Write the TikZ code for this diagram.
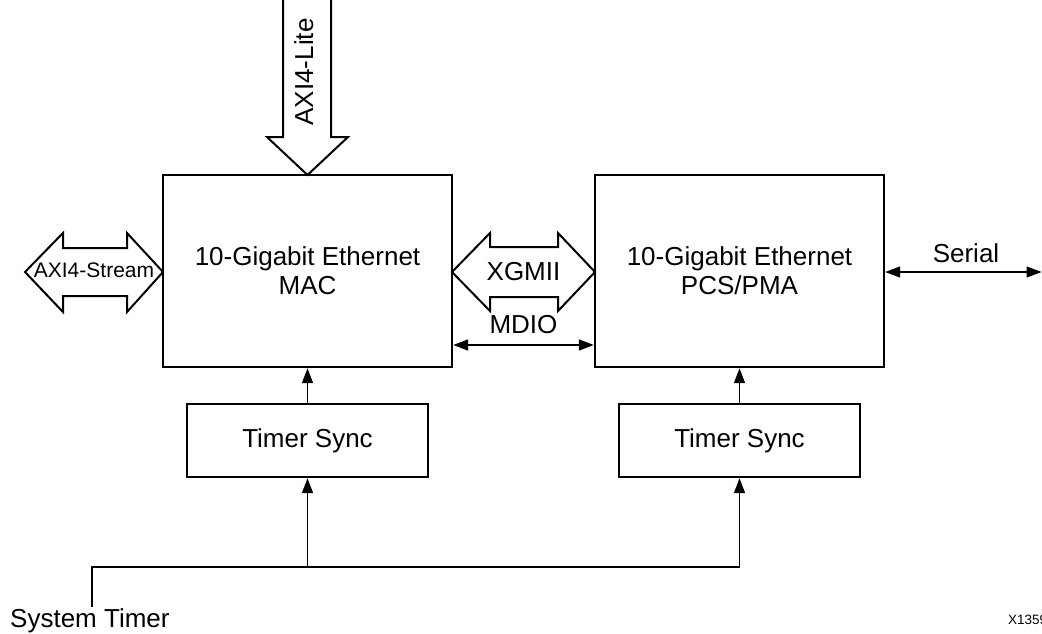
\documentclass[tikz,border=0pt]{standalone}
\usepackage{fontspec}
\setmainfont{Liberation Sans}
\usetikzlibrary{arrows.meta}
\begin{document}
\begin{tikzpicture}[x=1pt,y=-1pt,
  box/.style={draw,line width=2.4pt,inner sep=0pt,align=center,font=\fontsize{26}{29}\selectfont},
  lbl/.style={font=\fontsize{26}{29}\selectfont,inner sep=0pt},
  conn/.style={line width=1.5pt},
  tipend/.style={-{Triangle[length=15pt,width=11pt]}},
  tipboth/.style={{Triangle[length=15pt,width=11pt]}-{Triangle[length=15pt,width=11pt]}},
  blk/.style={draw,line width=2pt,line join=miter}]
\useasboundingbox (0,0) rectangle (1042,634);
% main blocks
\node[box,minimum width=289pt,minimum height=192pt] (mac) at (307.5,271) {10-Gigabit Ethernet\\MAC};
\node[box,minimum width=289pt,minimum height=192pt] (pcs) at (739.5,271) {10-Gigabit Ethernet\\PCS/PMA};
\node[box,minimum width=241pt,minimum height=73pt] (ts1) at (307.5,440.5) {Timer Sync};
\node[box,minimum width=241pt,minimum height=73pt] (ts2) at (739.5,440.5) {Timer Sync};
% timer sync to blocks
\draw[conn,tipend] (ts1.north) -- (mac.south);
\draw[conn,tipend] (ts2.north) -- (pcs.south);
% system timer
\coordinate (st) at (92,607);
\coordinate (jn) at (92,567);
\draw[conn,tipend] (st) -- (jn) -| (ts2.south);
\draw[conn,tipend] (jn -| ts1.south) -- (ts1.south);
\node[lbl,anchor=base west] (stl) at (10,627) {System Timer};
% MDIO
\coordinate (mdl) at (mac.east |- 0,345);
\coordinate (mdr) at (pcs.west |- 0,345);
\draw[conn,tipboth] (mdl) -- (mdr);
\node[lbl,anchor=base] (mdio) at (523.5,333) {MDIO};
% Serial
\coordinate (serr) at (1041.5,272);
\draw[conn,tipboth] (pcs.east |- serr) -- (serr);
\node[lbl,anchor=base] (serl) at (966,262) {Serial};
% XGMII block arrow
\draw[blk] (452,272) -- (490,233) -- (490,247) -- (558,247) -- (558,233) -- (595,272)
  -- (558,311) -- (558,297) -- (490,297) -- (490,311) -- cycle;
\node[lbl,anchor=base] (xgmii) at (523.5,280) {XGMII};
% AXI4-Stream block arrow
\draw[blk] (25,272) -- (63,233) -- (63,248) -- (127,248) -- (127,233) -- (163,272)
  -- (127,312) -- (127,296) -- (63,296) -- (63,312) -- cycle;
\node[font=\fontsize{21}{24}\selectfont,inner sep=0pt,anchor=base] (axis) at (94,277) {AXI4-Stream};
% AXI4-Lite block arrow
\draw[blk] (283,-3) -- (283,137) -- (267,137) -- (307.5,175) -- (348,137) -- (331,137) -- (331,-3);
\node[lbl,rotate=90,anchor=base] (axil) at (313,72) {AXI4-Lite};
% figure id
\node[font=\fontsize{13.5}{15}\selectfont,inner sep=0pt,anchor=base west] (fid) at (1008,624) {X1359};
\end{tikzpicture}
\end{document}
